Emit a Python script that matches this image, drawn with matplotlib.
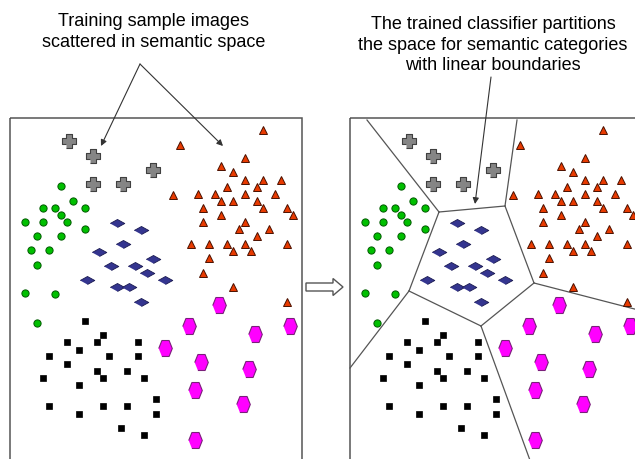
import numpy as np
import matplotlib
matplotlib.use("Agg")
import matplotlib.pyplot as plt
from matplotlib.patches import Rectangle, FancyArrow

plt.rcParams['font.family'] = ['Liberation Sans', 'DejaVu Sans']

# sample positions in semantic space (left panel pixel frame)
gray_pts = [(69,142),(93,157),(153,171),(93,185),(123,185)]
green_pts = [(61,187),(73,202),(43,209),(55,209),(85,209),(61,216),(25,223),(43,223),(67,223),
             (85,230),(37,237),(61,237),(31,251),(49,251),(37,266),(25,294),(55,295),(37,324)]
blue_pts = [(117,224),(141,231),(123,245),(99,253),(153,260),(111,267),(135,267),(147,274),
            (87,281),(165,281),(117,288),(129,288),(141,303)]
red_pts = [(263,131),(180,146),(245,159),(221,167),(233,173),(245,181),(263,181),(281,181),
           (227,188),(257,188),(173,196),(198,195),(215,195),(245,195),(275,195),(221,202),
           (233,202),(257,202),(203,209),(263,209),(287,209),(221,216),(293,216),(245,223),
           (203,223),(239,230),(269,230),(257,237),(191,245),(209,245),(227,245),(245,245),
           (287,245),(233,252),(251,252),(209,259),(203,274),(233,288),(287,303)]
magenta_pts = [(219,306),(189,327),(255,335),(290,327),(165,349),(201,363),(249,370),
               (195,391),(243,405),(195,441)]
black_pts = [(85,322),(103,336),(67,343),(97,343),(138,343),(79,351),(49,357),(109,357),
             (138,357),(67,365),(97,372),(127,372),(43,379),(103,379),(144,379),(79,386),
             (156,400),(49,407),(103,407),(127,407),(79,415),(156,415),(121,429),(144,436)]

# classifier boundary vertices and segments
bverts = {'A': (27,121), 'B': (99,213), 'C': (165,207), 'D': (177,121), 'E': (194,284),
          'F': (310,314), 'G': (141,327), 'H': (69,292), 'I': (10,369), 'J': (195,475)}
bsegs = [('A','B'), ('B','C'), ('C','D'), ('C','E'), ('E','F'), ('E','G'),
         ('G','H'), ('H','B'), ('H','I'), ('G','J')]

left_title = "Training sample images\nscattered in semantic space"
right_title = "The trained classifier partitions\nthe space for semantic categories\nwith linear boundaries"

panel_offset = [0, 340]

cross = [(-0.35,-1),(0.35,-1),(0.35,-0.35),(1,-0.35),(1,0.35),(0.35,0.35),(0.35,1),
         (-0.35,1),(-0.35,0.35),(-1,0.35),(-1,-0.35),(-0.35,-0.35)]
diamond = [(-1,0),(0,0.55),(1,0),(0,-0.55)]
hexagon = [(-0.85,0),(-0.45,1),(0.45,1),(0.85,0),(0.45,-1),(-0.45,-1)]

styles = [
    (gray_pts, dict(marker=cross, markersize=10.5, mfc='#858585', mec='#404040', mew=0.8)),
    (green_pts, dict(marker='o', markersize=5.2, mfc='#00c000', mec='#005a00', mew=0.7)),
    (blue_pts, dict(marker=diamond, markersize=10.5, mfc='#34358f', mec='#1a1a50', mew=0.6)),
    (red_pts, dict(marker='^', markersize=6, mfc='#e83a00', mec='#4a1000', mew=0.7)),
    (magenta_pts, dict(marker=hexagon, markersize=11.5, mfc='#ff00ff', mec='#7a207a', mew=0.8)),
    (black_pts, dict(marker='s', markersize=5, mfc='black', mec='black', mew=0.5)),
]

fig = plt.figure(figsize=(6.35, 4.6), dpi=100)
ax = fig.add_axes([0, 0, 1, 1])
ax.set_xlim(0, 635)
ax.set_ylim(460, 0)
ax.axis('off')

for off in panel_offset:
    ax.add_patch(Rectangle((10 + off, 119), 292, 400, fill=False, ec='#555555', lw=1.1, zorder=1))
    for pts, st in styles:
        p = np.array(pts, dtype=float)
        ax.plot(p[:, 0] + off, p[:, 1], ls='none', zorder=3, **st)

# boundaries on right panel
off = panel_offset[1]
for a, b in bsegs:
    (x0, y0), (x1, y1) = bverts[a], bverts[b]
    ax.plot([x0 + off, x1 + off], [y0, y1], color='#555555', lw=0.9, zorder=2)

# titles
ax.text(154, 32, left_title, ha='center', va='center', fontsize=13, linespacing=1.3)
ax.text(493, 45, right_title, ha='center', va='center', fontsize=13, linespacing=1.3)

# pointer arrows
apx = (140, 65)
for tip in [(101, 147), (223, 147)]:
    ax.annotate('', xy=tip, xytext=apx,
                arrowprops=dict(arrowstyle='-|>', color='#333333', lw=0.8, mutation_scale=9,
                                shrinkA=0, shrinkB=0))
ax.annotate('', xy=(475, 205), xytext=(491, 78),
            arrowprops=dict(arrowstyle='-|>', color='#333333', lw=0.8, mutation_scale=9,
                            shrinkA=0, shrinkB=0))

# block arrow between panels
ax.add_patch(FancyArrow(306, 288, 37, 0, width=8, head_width=17, head_length=10,
                        length_includes_head=True, fc='white', ec='#555555', lw=1.0))

fig.savefig('out.png', dpi=100)
